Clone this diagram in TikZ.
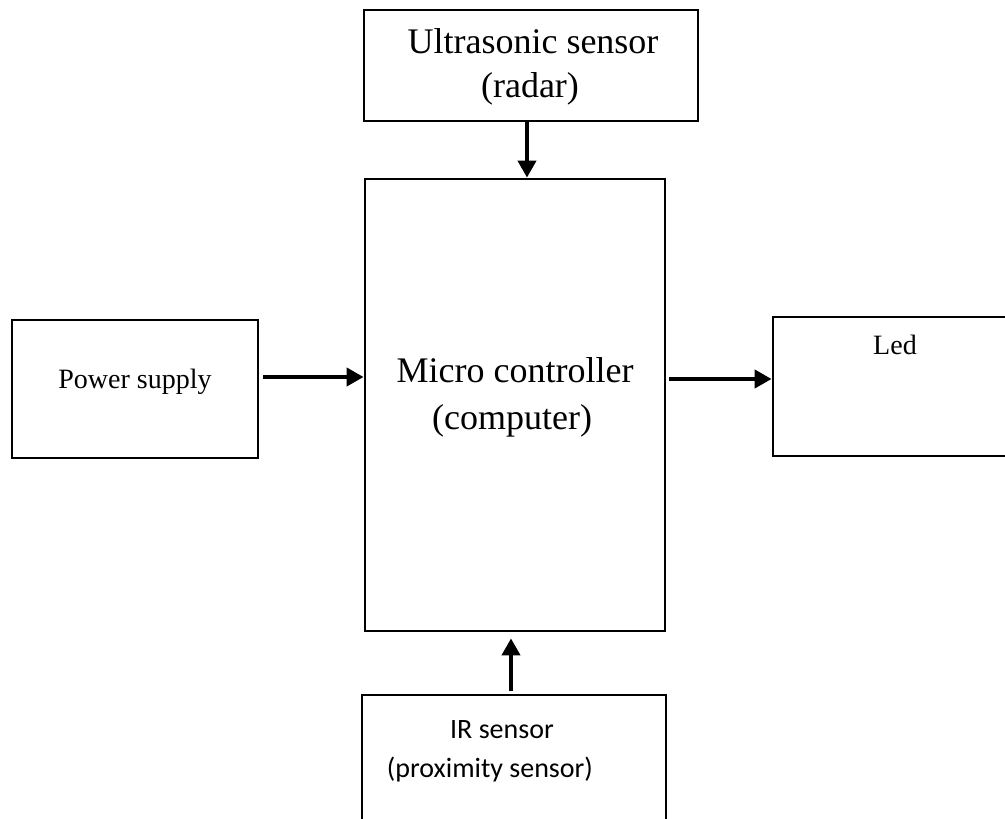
\documentclass[tikz,border=0pt]{standalone}
\usepackage{fontspec}
\setmainfont{Liberation Serif}
\newfontfamily\calibri{Carlito}
\usetikzlibrary{arrows.meta}
\begin{document}
\begin{tikzpicture}[x=1pt,y=-1pt,
  box/.style={draw, line width=2.8pt, rectangle, inner sep=0pt},
  arr/.style={line width=4pt, -{Triangle[length=17pt,width=18pt]}},
  big/.style={anchor=base, inner sep=0pt, font=\fontsize{36}{40}\selectfont},
  mid/.style={anchor=base, inner sep=0pt, font=\fontsize{28}{32}\selectfont},
  sans/.style={anchor=base, inner sep=0pt, font=\calibri\fontsize{28}{33}\selectfont}]
\clip (0,0) rectangle (1005,819);
\fill[white] (0,0) rectangle (1005,819);
% boxes
\node[box, minimum width=334pt, minimum height=111pt] (us) at (531,65.5) {};
\node[box, minimum width=300pt, minimum height=452pt] (mc) at (515,405) {};
\node[box, minimum width=246pt, minimum height=138pt] (ps) at (135,389) {};
\node[box, minimum width=242pt, minimum height=139pt] (led) at (894,386.5) {};
\node[box, minimum width=304pt, minimum height=135pt] (ir) at (514,762.5) {};
% labels
\node[big] (usl1) at (533,53) {Ultrasonic sensor};
\node[big] (usl2) at (530,97) {(radar)};
\node[big] (mcl1) at (515,382) {Micro controller};
\node[big] (mcl2) at (512,429) {(computer)};
\node[mid] (psl) at (135,388) {Power supply};
\node[mid] (ledl) at (895,354) {Led};
\node[sans] (irl1) at (502,738) {IR sensor};
\node[sans] (irl2) at (490,777) {(proximity sensor)};
% connectors
\coordinate (ua) at (527,0);
\coordinate (pa) at (0,377);
\coordinate (la) at (0,379);
\coordinate (ia) at (511,0);
\draw[arr] (us.south -| ua) -- (mc.north -| ua);
\draw[arr, shorten <=4pt] (ps.east |- pa) -- (mc.west |- pa);
\draw[arr, shorten <=3pt] (mc.east |- la) -- (led.west |- la);
\draw[arr, shorten <=3pt, shorten >=6pt] (ir.north -| ia) -- (mc.south -| ia);
\end{tikzpicture}
\end{document}
